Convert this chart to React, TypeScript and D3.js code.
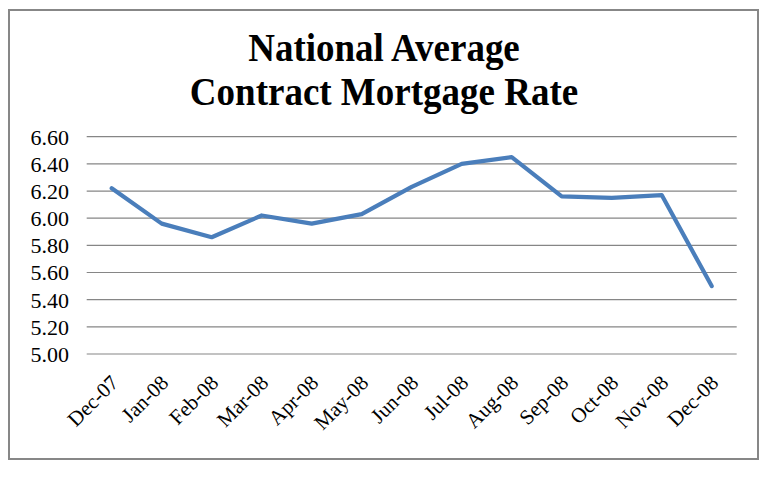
import React, { useEffect, useRef } from "react";
import * as d3 from "d3";

const months = [
  "Dec-07", "Jan-08", "Feb-08", "Mar-08", "Apr-08", "May-08", "Jun-08",
  "Jul-08", "Aug-08", "Sep-08", "Oct-08", "Nov-08", "Dec-08",
];
const rates = [6.22, 5.96, 5.86, 6.02, 5.96, 6.03, 6.23, 6.40, 6.45, 6.16, 6.15, 6.17, 5.50];
const yTicks = [5.0, 5.2, 5.4, 5.6, 5.8, 6.0, 6.2, 6.4, 6.6];
const titleLines = ["National Average", "Contract Mortgage Rate"];

const App: React.FC = () => {
  const chartRef = useRef<SVGSVGElement | null>(null);

  useEffect(() => {
    if (!chartRef.current) return;
    const width = 768;
    const height = 480;
    const svg = d3.select(chartRef.current);
    svg.selectAll("*").remove();
    svg.attr("width", width).attr("height", height);

    const font = "'Liberation Serif', 'Times New Roman', serif";

    // white background + chart border
    svg.append("rect").attr("width", width).attr("height", height).attr("fill", "#fff");
    svg.append("rect")
      .attr("x", 9).attr("y", 10)
      .attr("width", 749).attr("height", 449)
      .attr("fill", "#fff")
      .attr("stroke", "#878787")
      .attr("stroke-width", 2);

    // title (slightly tall glyphs like the original)
    titleLines.forEach((t, i) => {
      svg.append("text")
        .attr("transform", `translate(384,${61 + i * 44}) scale(1,1.08)`)
        .attr("text-anchor", "middle")
        .attr("font-family", font)
        .attr("font-weight", "bold")
        .attr("font-size", "37px")
        .attr("fill", "#000")
        .text(t);
    });

    const left = 86.7, right = 736.7, top = 136.7, bottom = 354;
    const x = d3.scalePoint<string>().domain(months).range([left, right]).padding(0.5);
    const y = d3.scaleLinear().domain([5.0, 6.6]).range([bottom, top]);

    // gridlines
    svg.append("g")
      .selectAll("line")
      .data(yTicks)
      .join("line")
      .attr("x1", left).attr("x2", right)
      .attr("y1", d => y(d)).attr("y2", d => y(d))
      .attr("stroke", "#868686")
      .attr("stroke-width", 1.2);

    // y labels
    svg.append("g")
      .selectAll("text")
      .data(yTicks)
      .join("text")
      .attr("x", 69)
      .attr("y", d => y(d))
      .attr("dy", "0.36em")
      .attr("text-anchor", "end")
      .attr("font-family", font)
      .attr("font-size", "22px")
      .attr("fill", "#000")
      .text(d => d.toFixed(2));

    // x labels, rotated
    svg.append("g")
      .selectAll("text")
      .data(months)
      .join("text")
      .attr("transform", d => `translate(${(x(d) as number) + 8},${bottom + 30}) rotate(-45)`)
      .attr("text-anchor", "end")
      .attr("font-family", font)
      .attr("font-size", "21px")
      .attr("fill", "#000")
      .text(d => d);

    // line
    const line = d3.line<number>()
      .x((_, i) => x(months[i]) as number)
      .y(d => y(d));

    svg.append("path")
      .attr("d", line(rates) || "")
      .attr("fill", "none")
      .attr("stroke", "#4a7ebb")
      .attr("stroke-width", 4.2)
      .attr("stroke-linejoin", "round")
      .attr("stroke-linecap", "round");
  }, []);

  return (
    <svg
      ref={chartRef}
      style={{ position: "absolute", left: 0, top: 0, display: "block" }}
    />
  );
};

export default App;
